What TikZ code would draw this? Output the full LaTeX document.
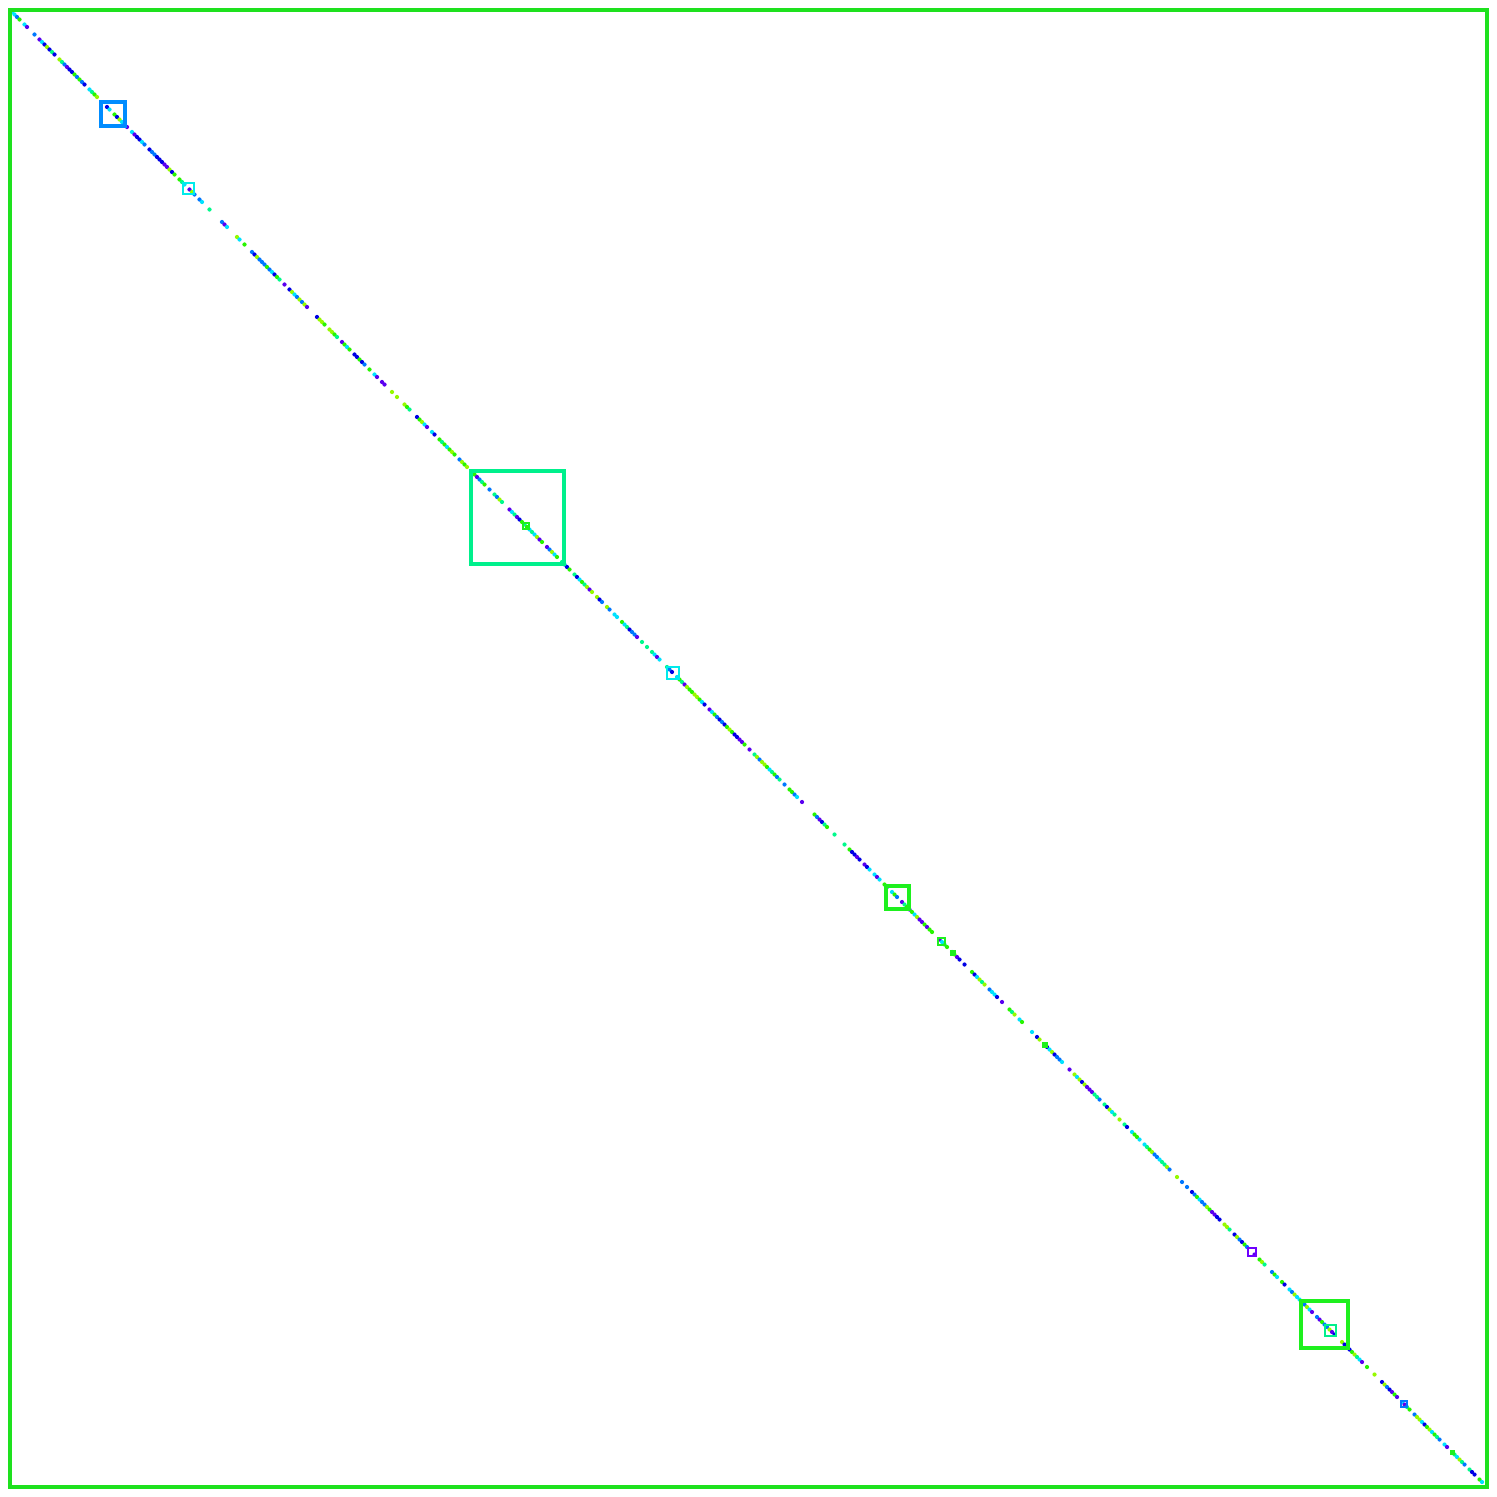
\documentclass[tikz,border=0pt]{standalone}
\usetikzlibrary{calc}
\definecolor{framegreen}{RGB}{30,225,30}
\definecolor{cellazure}{RGB}{0,140,255}
\definecolor{cellcyan}{RGB}{0,235,235}
\definecolor{cellspring}{RGB}{0,240,140}
\definecolor{cellgreen}{RGB}{30,240,30}
\definecolor{cellviolet}{RGB}{110,0,255}
\definecolor{dot0}{RGB}{0,0,230}
\definecolor{dot1}{RGB}{90,0,240}
\definecolor{dot2}{RGB}{0,120,255}
\definecolor{dot3}{RGB}{0,225,255}
\definecolor{dot4}{RGB}{0,250,140}
\definecolor{dot5}{RGB}{40,245,0}
\definecolor{dot6}{RGB}{150,250,0}
\begin{document}
\begin{tikzpicture}[x=0.01cm, y=-0.01cm,
  cell/.style={line width=0.9pt},
  smallcell/.style={line width=0.75pt}
]
\useasboundingbox (0,0) rectangle (1497,1497);
\fill[white] (0,0) rectangle (1497,1497);

% diagonal entries
\pgfmathsetseed{11}
\foreach \i in {0,...,588} {
  \pgfmathsetmacro\t{12+\i*2.5}
  \pgfmathrandominteger{\c}{0}{8}
  \ifnum\c<7
    \fill[dot\c] (\t,\t) circle (0.6pt);
  \fi
}

% blocks
\draw[cell, cellazure] (101,102) rectangle (125,126);
\draw[smallcell, cellcyan] (183,183) rectangle (194,194);
\draw[cell, cellspring] (471,471) rectangle (564,564);
\draw[smallcell, cellgreen] (523,523) rectangle (529,529);
\draw[smallcell, cellcyan] (667,667) rectangle (679,679);
\draw[cell, cellgreen] (886,886) rectangle (909,909);
\draw[smallcell, cellgreen] (938,938) rectangle (945,945);
\fill[cellgreen] (950,950) rectangle (956,956);
\fill[cellgreen] (1042,1042) rectangle (1048,1048);
\draw[smallcell, cellviolet] (1248,1248) rectangle (1256,1256);
\draw[cell, cellgreen] (1301,1301) rectangle (1348,1348);
\draw[smallcell, cellspring] (1325,1325) rectangle (1336,1336);
\draw[smallcell, dot2] (1401,1401) rectangle (1407,1407);
\fill[cellgreen] (1450,1450) rectangle (1455,1455);

% matrix frame
\draw[line width=1pt, framegreen] (10,10) rectangle (1487,1487);
\end{tikzpicture}
\end{document}
